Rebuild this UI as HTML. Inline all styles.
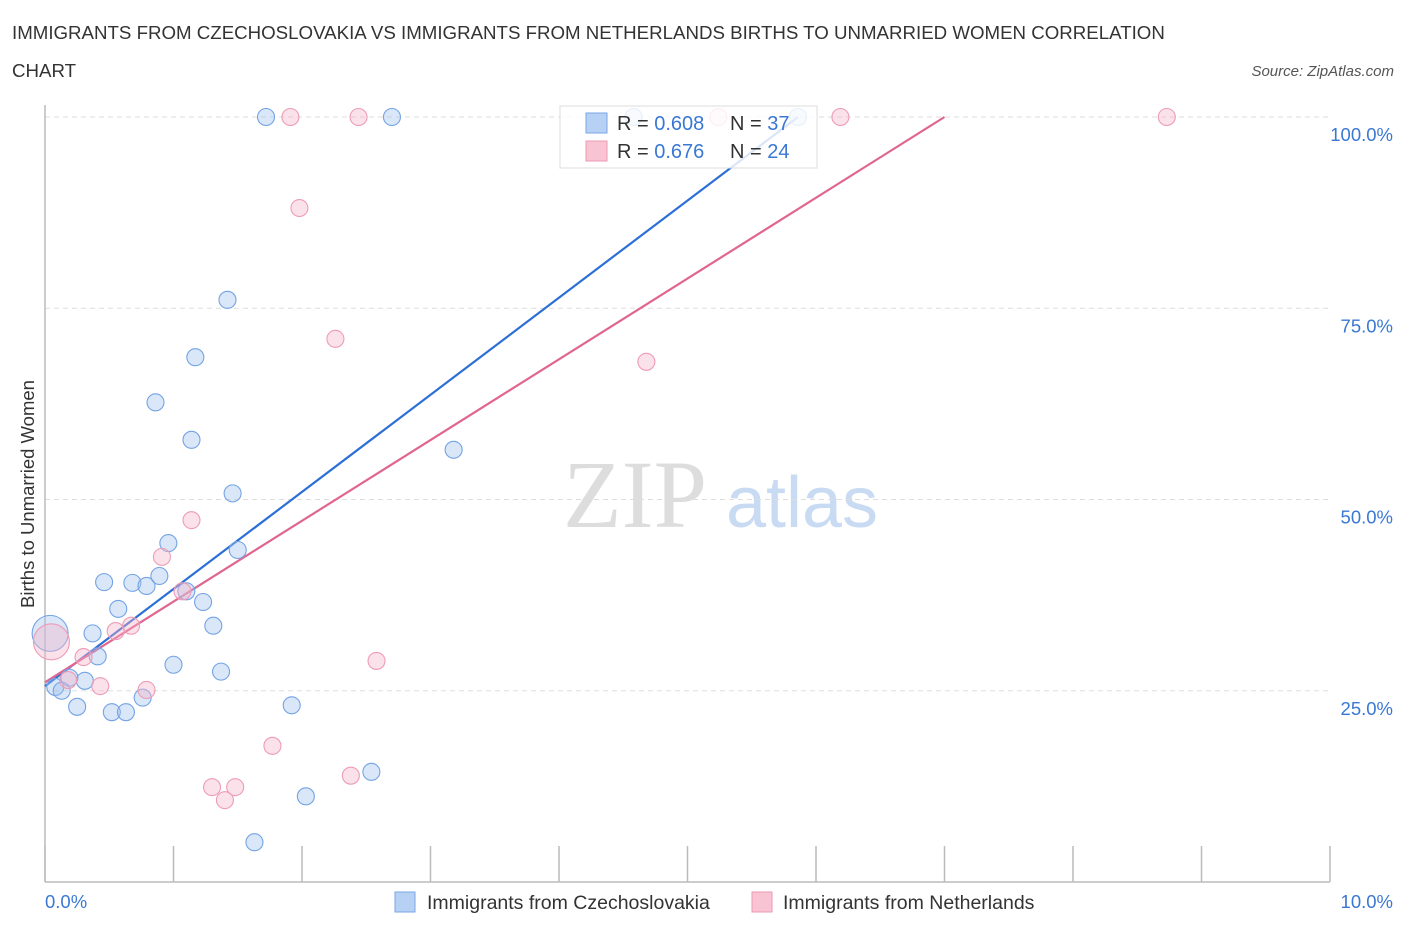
<!DOCTYPE html>
<html><head><meta charset="utf-8"><style>
body{margin:0;background:#fff;font-family:"Liberation Sans",sans-serif;}
svg{display:block}
</style></head><body>
<svg width="1406" height="930" xmlns="http://www.w3.org/2000/svg">
<text x="12" y="39" font-size="18.7" fill="#333">IMMIGRANTS FROM CZECHOSLOVAKIA VS IMMIGRANTS FROM NETHERLANDS BIRTHS TO UNMARRIED WOMEN CORRELATION</text>
<text x="12" y="77" font-size="18.7" fill="#333">CHART</text>
<text x="1394" y="76" font-size="15" fill="#555" font-style="italic" text-anchor="end">Source: ZipAtlas.com</text>
<g>
<text x="635" y="527" font-size="96" fill="#ddd" font-family="Liberation Serif,serif" text-anchor="middle">ZIP</text>
<text x="802" y="527" font-size="72" fill="#c9dbf2" text-anchor="middle">atlas</text>
</g>
<g id="grid"></g>
<line x1="45" y1="105" x2="45" y2="882" stroke="#bbb" stroke-width="1.5"/>
<line x1="45" y1="882" x2="1330" y2="882" stroke="#bbb" stroke-width="1.5"/>
<g id="xticks"></g>
<text x="34" y="494" font-size="18.5" fill="#333" text-anchor="middle" transform="rotate(-90 34 494)">Births to Unmarried Women</text>
<text x="45" y="908" font-size="18.5" fill="#3a78d4">0.0%</text>
<text x="1393" y="908" font-size="18.5" fill="#3a78d4" text-anchor="end">10.0%</text>
<g id="lines"></g>
<g id="pts"></g>
<g>
<rect x="560" y="106" width="257" height="62" fill="#fff" fill-opacity="0.82" stroke="#ddd"/>
<rect x="586" y="113" width="21" height="20" fill="#b7d1f5" stroke="#7aa6e6"/>
<rect x="586" y="141" width="21" height="20" fill="#f8c4d3" stroke="#eb9ab3"/>
<text x="617" y="130" font-size="20" fill="#333">R = <tspan fill="#3a78d4">0.608</tspan></text>
<text x="730" y="130" font-size="20" fill="#333">N = <tspan fill="#3a78d4">37</tspan></text>
<text x="617" y="158" font-size="20" fill="#333">R =  <tspan fill="#3a78d4">0.676</tspan></text>
<text x="730" y="158" font-size="20" fill="#333">N = <tspan fill="#3a78d4">24</tspan></text>
</g>
<g>
<rect x="395" y="892" width="20" height="20" fill="#b7d1f5" stroke="#7aa6e6"/>
<text x="427" y="909" font-size="19.5" fill="#333">Immigrants from Czechoslovakia</text>
<rect x="752" y="892" width="20" height="20" fill="#f8c4d3" stroke="#eb9ab3"/>
<text x="783" y="909" font-size="19.5" fill="#333">Immigrants from Netherlands</text>
</g>
</svg>
<script>
const yTicks=[25,50,75,100];
const yTickLabels=["25.0%","50.0%","75.0%","100.0%"];
const xTicks=[0,1,2,3,4,5,6,7,8,9,10];
const blueX=[1.72,2.70,4.58,5.86,1.42,1.17,0.86,1.14,3.18,1.46,0.96,1.50,0.46,0.68,0.79,0.89,1.10,1.23,0.57,0.37,1.31,0.04,0.41,1.00,1.37,0.19,0.31,0.08,0.13,0.25,0.76,0.52,0.63,1.92,2.54,2.03,1.63];
const blueY=[100,100,100,100,76.1,68.6,62.7,57.8,56.5,50.8,44.3,43.4,39.2,39.1,38.7,40.0,38.0,36.6,35.7,32.5,33.5,32.5,29.5,28.4,27.5,26.7,26.3,25.5,25.0,22.9,24.1,22.2,22.2,23.1,14.4,11.2,5.2];
const blueBig=[21];
const pinkX=[1.91,2.44,5.24,6.19,8.73,1.98,2.26,4.68,1.14,0.91,1.07,0.67,0.55,0.05,0.30,0.18,0.43,0.79,2.58,1.77,2.38,1.30,1.48,1.40];
const pinkY=[100,100,100,100,100,88.1,71.0,68.0,47.3,42.5,38.0,33.5,32.8,31.4,29.4,26.4,25.6,25.1,28.9,17.8,13.9,12.4,12.4,10.7];
const pinkBig=[13];
const blueLine=[0,25.6,5.86,100];
const pinkLine=[0,26.1,7.0,100];
const NS="http://www.w3.org/2000/svg";
const sx=v=>45+v*128.5, sy=v=>882-v*7.65;
function mk(tag,attrs,parent){const e=document.createElementNS(NS,tag);for(const k in attrs)e.setAttribute(k,attrs[k]);document.getElementById(parent).appendChild(e);return e;}
yTicks.forEach((t,i)=>{
 const l=mk('line',{x1:45,x2:1330,y1:sy(t),y2:sy(t),stroke:'#ddd','stroke-dasharray':'5,4'},'grid');
 
 
 const tx=mk('text',{x:1393,y:sy(t)+24,'font-size':18.5,fill:'#3a78d4','text-anchor':'end'},'grid');
 tx.textContent=yTickLabels[i];
 
 
});
xTicks.forEach(t=>{
 const l=mk('line',{x1:sx(t),x2:sx(t),y1:846,y2:882,stroke:'#bbb','stroke-width':1.5},'xticks');
 
 
});
function pts(X,Y,big,fill,stroke,name){
 X.forEach((x,i)=>{
  const c=mk('circle',{cx:sx(x),cy:sy(Y[i]),r:big.includes(i)?18:8.5,fill:fill,stroke:stroke,'stroke-width':1.1},'pts');
  
  
 });
}
pts(blueX,blueY,blueBig,'rgba(160,196,240,0.4)','#74a3e4','point-czechoslovakia');
pts(pinkX,pinkY,pinkBig,'rgba(246,180,200,0.4)','#ee9cb6','point-netherlands');
function ln(a,col,name){
 const l=mk('line',{x1:sx(a[0]),y1:sy(a[1]),x2:sx(a[2]),y2:sy(a[3]),stroke:col,'stroke-width':2.2},'lines');
 
 
}
ln(blueLine,'#2c6fd6','trend-line-czechoslovakia');
ln(pinkLine,'#e0668f','trend-line-netherlands');
</script>
</body></html>
